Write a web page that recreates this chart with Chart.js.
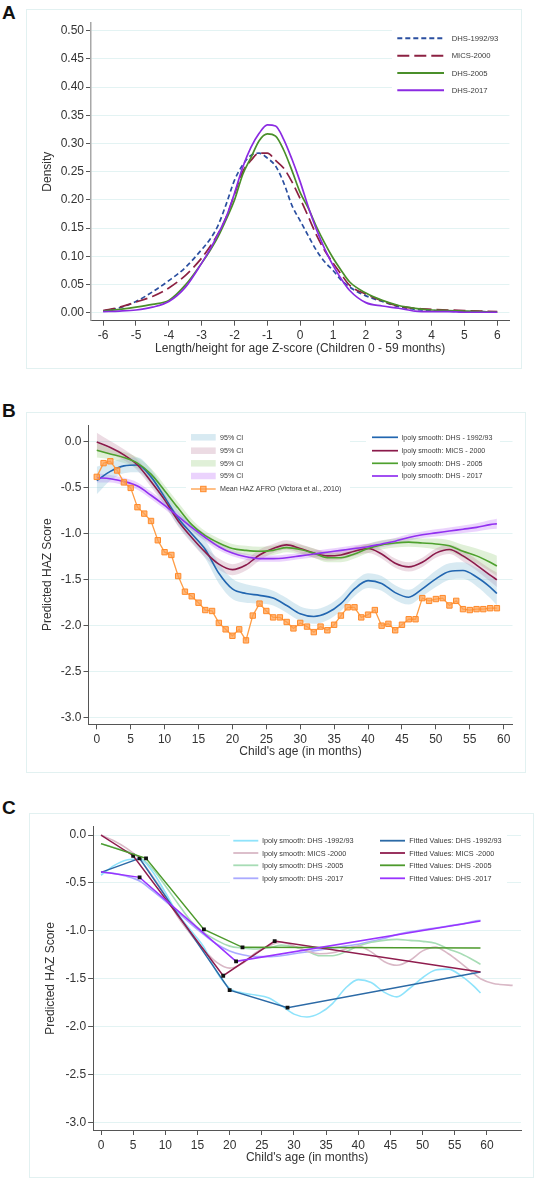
<!DOCTYPE html>
<html><head><meta charset="utf-8">
<script src="https://cdn.jsdelivr.net/npm/chart.js@4.4.1/dist/chart.umd.min.js"></script>
<style>
html,body{margin:0;padding:0;background:#fff;}
body{width:536px;height:1182px;position:relative;overflow:hidden;font-family:"Liberation Sans",Arial,sans-serif;}
.box{position:absolute;border:1px solid #e2f1f1;box-sizing:border-box;}
.cv{position:absolute;}
.lab{position:absolute;font-weight:bold;font-size:19px;line-height:19px;color:#111;font-family:"Liberation Sans",Arial,sans-serif;}
</style></head><body>
<div class="lab" style="left:2px;top:3px">A</div>
<div class="lab" style="left:2px;top:401px">B</div>
<div class="lab" style="left:2px;top:798px">C</div>
<div class="box" style="left:26px;top:9px;width:496px;height:360px"></div>
<div class="box" style="left:26px;top:412px;width:500px;height:361px"></div>
<div class="box" style="left:29px;top:813px;width:505px;height:365px"></div>
<canvas id="cA" class="cv" style="left:26px;top:9px" width="496" height="360"></canvas>
<canvas id="cB" class="cv" style="left:26px;top:412px" width="500" height="361"></canvas>
<canvas id="cC" class="cv" style="left:29px;top:813px" width="505" height="365"></canvas>
<script>
// ---------------- Panel A data (density of HAZ) ----------------
const zA = [-6,-5.5,-5,-4.5,-4,-3.5,-3,-2.75,-2.5,-2.25,-2,-1.75,-1.5,-1.25,-1,-0.75,-0.5,-0.25,0,0.25,0.5,0.75,1,1.25,1.5,2,2.5,3,3.5,4,4.5,5,5.5,6];
const dens1992 = [0.003,0.009,0.02,0.037,0.057,0.08,0.112,0.13,0.155,0.193,0.235,0.262,0.279,0.283,0.274,0.26,0.23,0.19,0.163,0.136,0.11,0.09,0.075,0.058,0.046,0.03,0.02,0.011,0.006,0.004,0.003,0.002,0.002,0.001];
const dens2000 = [0.004,0.01,0.019,0.029,0.044,0.066,0.097,0.117,0.14,0.17,0.21,0.25,0.27,0.283,0.283,0.27,0.256,0.232,0.202,0.17,0.137,0.11,0.088,0.068,0.049,0.033,0.021,0.012,0.008,0.006,0.005,0.004,0.003,0.002];
const dens2005 = [0.003,0.006,0.01,0.015,0.022,0.049,0.088,0.11,0.135,0.166,0.2,0.245,0.275,0.305,0.317,0.313,0.288,0.252,0.213,0.185,0.152,0.123,0.097,0.075,0.055,0.035,0.022,0.013,0.008,0.005,0.004,0.003,0.002,0.001];
const dens2017 = [0.002,0.003,0.005,0.01,0.02,0.045,0.088,0.112,0.14,0.17,0.212,0.258,0.293,0.318,0.333,0.331,0.307,0.272,0.232,0.187,0.147,0.113,0.084,0.06,0.04,0.018,0.012,0.008,0.003,0.002,0.002,0.001,0.001,0.001];
const ticksAX = [-6,-5,-4,-3,-2,-1,0,1,2,3,4,5,6];
const labelsAX = ['-6','-5','-4','-3','-2','-1','0','1','2','3','4','5','6'];
const ticksAY = [0,0.05,0.1,0.15,0.2,0.25,0.3,0.35,0.4,0.45,0.5];
const labelsAY = ['0.00','0.05','0.10','0.15','0.20','0.25','0.30','0.35','0.40','0.45','0.50'];

// ---------------- Panel B data (local polynomial smooth by age) ----------------
const mB = [0,2,4,6,8,10,12,14,16,18,20,22,24,26,28,30,32,34,36,38,40,42,44,46,48,50,52,54,56,58,59];
const smooth1992 = [-0.42,-0.32,-0.26,-0.25,-0.38,-0.6,-0.83,-1.0,-1.17,-1.43,-1.6,-1.65,-1.67,-1.7,-1.78,-1.87,-1.9,-1.86,-1.76,-1.6,-1.51,-1.54,-1.64,-1.69,-1.6,-1.49,-1.41,-1.4,-1.47,-1.58,-1.65];
const smooth2000 = [0.0,-0.06,-0.14,-0.25,-0.43,-0.63,-0.86,-1.04,-1.2,-1.33,-1.39,-1.34,-1.23,-1.16,-1.12,-1.16,-1.21,-1.24,-1.23,-1.19,-1.16,-1.22,-1.32,-1.36,-1.31,-1.21,-1.17,-1.24,-1.34,-1.45,-1.5];
const smooth2005 = [-0.09,-0.13,-0.17,-0.23,-0.35,-0.53,-0.72,-0.9,-1.02,-1.1,-1.16,-1.18,-1.19,-1.18,-1.15,-1.17,-1.21,-1.26,-1.26,-1.22,-1.16,-1.12,-1.1,-1.09,-1.1,-1.11,-1.13,-1.19,-1.24,-1.31,-1.35];
const smooth2017 = [-0.39,-0.4,-0.43,-0.48,-0.58,-0.69,-0.81,-0.93,-1.04,-1.14,-1.21,-1.25,-1.27,-1.27,-1.26,-1.24,-1.22,-1.2,-1.18,-1.16,-1.14,-1.11,-1.08,-1.04,-1.01,-0.99,-0.97,-0.95,-0.93,-0.9,-0.89];
const ci1992 = [0.15,0.1,0.08,0.08,0.08,0.08,0.08,0.09,0.1,0.11,0.11,0.1,0.09,0.08,0.08,0.08,0.08,0.08,0.08,0.08,0.08,0.08,0.08,0.08,0.08,0.09,0.09,0.09,0.1,0.12,0.13];
const ci2000 = [0.1,0.07,0.06,0.06,0.06,0.06,0.06,0.06,0.06,0.06,0.06,0.06,0.06,0.05,0.05,0.05,0.05,0.05,0.05,0.05,0.05,0.05,0.05,0.05,0.05,0.05,0.05,0.06,0.06,0.07,0.08];
const ci2005 = [0.08,0.06,0.06,0.06,0.06,0.06,0.06,0.06,0.05,0.05,0.05,0.05,0.05,0.05,0.05,0.05,0.05,0.05,0.05,0.05,0.05,0.05,0.05,0.05,0.05,0.06,0.06,0.07,0.08,0.1,0.11];
const ci2017 = [0.05,0.04,0.04,0.04,0.04,0.04,0.04,0.04,0.04,0.04,0.035,0.035,0.035,0.035,0.035,0.035,0.035,0.035,0.035,0.035,0.035,0.035,0.035,0.035,0.035,0.04,0.04,0.04,0.045,0.05,0.055];
const monthsAfro = [0,1,2,3,4,5,6,7,8,9,10,11,12,13,14,15,16,17,18,19,20,21,22,23,24,25,26,27,28,29,30,31,32,33,34,35,36,37,38,39,40,41,42,43,44,45,46,47,48,49,50,51,52,53,54,55,56,57,58,59];
const hazAfro = [-0.38,-0.23,-0.21,-0.31,-0.44,-0.5,-0.71,-0.78,-0.86,-1.07,-1.2,-1.23,-1.46,-1.63,-1.68,-1.75,-1.83,-1.84,-1.97,-2.04,-2.11,-2.04,-2.16,-1.89,-1.76,-1.84,-1.91,-1.91,-1.96,-2.03,-1.97,-2.01,-2.07,-2.01,-2.05,-1.99,-1.89,-1.8,-1.8,-1.91,-1.88,-1.83,-2.0,-1.98,-2.05,-1.99,-1.93,-1.93,-1.7,-1.73,-1.71,-1.7,-1.78,-1.73,-1.82,-1.83,-1.82,-1.82,-1.81,-1.81];
const ticksBX = [0,5,10,15,20,25,30,35,40,45,50,55,60];
const labelsBX = ['0','5','10','15','20','25','30','35','40','45','50','55','60'];
const ticksBY = [0,-0.5,-1,-1.5,-2,-2.5,-3];
const labelsBY = ['0.0','-0.5','-1.0','-1.5','-2.0','-2.5','-3.0'];

// ---------------- Panel C data (piecewise fitted values) ----------------
const mExtMICS = [61,62,64];
const smoothExtMICS = [-1.55,-1.56,-1.57];
const fit1992X = [0,6,20,29,59];  const fit1992Y = [-0.39,-0.244,-1.62,-1.803,-1.43];
const fit2000X = [0,5,19,27,59];  const fit2000Y = [0.0,-0.216,-1.469,-1.107,-1.43];
const fit2005X = [0,7,16,22,59];  const fit2005Y = [-0.09,-0.244,-0.985,-1.173,-1.18];
const fit2017X = [0,6,21,59];     const fit2017Y = [-0.383,-0.442,-1.319,-0.898];

// ---------------- helpers ----------------
const FONT = '"Liberation Sans", Arial, Helvetica, sans-serif';
const TXT = '#333333';
Chart.defaults.font.family = FONT;
function pts(xs, ys){ return xs.map((x,i)=>({x:x,y:ys[i]})); }
function band(xs, ys, hw, sign){ return xs.map((x,i)=>({x:x,y:ys[i]+sign*hw[i]})); }

function scaleX(o){
  return {
    type:'linear', min:o.min, max:o.max,
    afterBuildTicks: s => { s.ticks = o.ticks.map(v=>({value:v})); },
    afterFit: s => { s.height = o.h; },
    grid:{drawOnChartArea:false, drawTicks:true, tickLength:5, tickColor:'#555', tickWidth:1},
    border:{display:true, color:o.border||'#555', width:1},
    ticks:{color:TXT, font:{size:12,family:FONT}, padding:3, maxRotation:0, autoSkip:false,
      callback:(v)=>o.labels[o.ticks.indexOf(v)]},
    title:{display:true, text:o.title, color:TXT, font:{size:12,family:FONT}, padding:{top:0,bottom:o.tpad}}
  };
}
function scaleY(o){
  return {
    type:'linear', min:o.min, max:o.max,
    afterBuildTicks: s => { s.ticks = o.ticks.map(v=>({value:v})); },
    afterFit: s => { s.width = o.w; },
    grid:{drawOnChartArea:true, color:'#e3f3f3', lineWidth:1, drawTicks:true, tickLength:5, tickColor:'#555', tickWidth:1},
    border:{display:true, color:o.border||'#555', width:o.bw||1},
    ticks:{color:TXT, font:{size:12,family:FONT}, padding:2, autoSkip:false,
      callback:(v)=>o.labels[o.ticks.indexOf(v)]},
    title:{display:true, text:o.title, color:TXT, font:{size:12,family:FONT}, padding:{top:o.tpad,bottom:0}}
  };
}

const panelLegend = {
  id:'panelLegend',
  beforeDatasetsDraw(chart, args, opts){
    if(!opts || !opts.items) return;
    const ctx = chart.ctx; ctx.save(); ctx.fillStyle = '#ffffff';
    (opts.bg||[]).forEach(r=>ctx.fillRect(r[0],r[1],r[2],r[3]));
    ctx.restore();
  },
  afterDatasetsDraw(chart, args, opts){
    if(!opts || !opts.items) return;
    const ctx = chart.ctx; ctx.save();
    ctx.font = opts.size + 'px ' + FONT;
    ctx.textBaseline = 'middle'; ctx.textAlign = 'left';
    opts.items.forEach(it=>{
      if(it.kind==='box'){
        ctx.fillStyle = it.color; ctx.fillRect(it.x1, it.y-it.h/2, it.x2-it.x1, it.h);
      } else {
        ctx.strokeStyle = it.color; ctx.lineWidth = it.lw||1.6; ctx.setLineDash(it.dash||[]);
        ctx.beginPath(); ctx.moveTo(it.x1,it.y); ctx.lineTo(it.x2,it.y); ctx.stroke(); ctx.setLineDash([]);
        if(it.marker){
          const s = it.marker, cx=(it.x1+it.x2)/2;
          ctx.fillStyle = it.mfill; ctx.fillRect(cx-s/2,it.y-s/2,s,s);
          ctx.strokeStyle = it.mborder; ctx.lineWidth=1; ctx.strokeRect(cx-s/2,it.y-s/2,s,s);
        }
      }
      ctx.fillStyle = opts.color; ctx.fillText(it.text, it.tx, it.y+0.5);
    });
    ctx.restore();
  }
};

function baseOptions(pad, scales, legend){
  return {
    responsive:false, animation:false, devicePixelRatio:1,
    layout:{padding:pad},
    scales:scales,
    plugins:{legend:{display:false}, tooltip:{enabled:false}, filler:{drawTime:'beforeDatasetsDraw'}, panelLegend:legend},
    elements:{point:{radius:0}, line:{tension:0}}
  };
}

// ---------------- Panel A ----------------
const colA = {b:'#2b4fa0', r:'#8c2142', g:'#4a8f2a', p:'#8b2be2'};
new Chart(document.getElementById('cA'), {
  type:'line',
  data:{datasets:[
    {label:'DHS-1992/93', data:pts(zA,dens1992), borderColor:colA.b, borderWidth:1.7, borderDash:[5,3], cubicInterpolationMode:'monotone', pointRadius:0, fill:false, order:4},
    {label:'MICS-2000', data:pts(zA,dens2000), borderColor:colA.r, borderWidth:1.7, borderDash:[12,5], cubicInterpolationMode:'monotone', pointRadius:0, fill:false, order:3},
    {label:'DHS-2005', data:pts(zA,dens2005), borderColor:colA.g, borderWidth:1.7, cubicInterpolationMode:'monotone', pointRadius:0, fill:false, order:2},
    {label:'DHS-2017', data:pts(zA,dens2017), borderColor:colA.p, borderWidth:1.7, cubicInterpolationMode:'monotone', pointRadius:0, fill:false, order:1}
  ]},
  options: baseOptions({left:0,top:13.7,right:12.6,bottom:0}, {
    x: scaleX({min:-6.37,max:6.37,ticks:ticksAX,labels:labelsAX,h:48.3,tpad:13.5,title:'Length/height for age Z-score (Children 0 - 59 months)'}),
    y: scaleY({min:-0.014,max:0.514,ticks:ticksAY,labels:labelsAY,w:65,tpad:14.7,title:'Density',border:'#a8a8a8',bw:1.5})
  }, {
    size:7.7, color:'#3a3a3a', bg:[[366,17,118,80]],
    items:[
      {x1:371.3,x2:418,y:29.3,tx:425.7,text:'DHS-1992/93',color:colA.b,lw:2,dash:[5,3]},
      {x1:371.3,x2:418,y:46.7,tx:425.7,text:'MICS-2000',color:colA.r,lw:2,dash:[12,5]},
      {x1:371.3,x2:418,y:64,tx:425.7,text:'DHS-2005',color:colA.g,lw:2},
      {x1:371.3,x2:418,y:81.3,tx:425.7,text:'DHS-2017',color:colA.p,lw:2}
    ]}),
  plugins:[panelLegend]
});

// ---------------- Panel B ----------------
const colB = {b:'#2266b0', r:'#8b1a4b', g:'#4ea12e', p:'#9130f0', o:'#ff9d45'};
const ciCol = {b:'rgba(137,190,215,0.33)', r:'rgba(180,110,145,0.25)', g:'rgba(140,200,110,0.27)', p:'rgba(190,110,250,0.30)'};
const series = [
  {mid:smooth1992, hw:ci1992, c:colB.b, ci:ciCol.b},
  {mid:smooth2000, hw:ci2000, c:colB.r, ci:ciCol.r},
  {mid:smooth2005, hw:ci2005, c:colB.g, ci:ciCol.g},
  {mid:smooth2017, hw:ci2017, c:colB.p, ci:ciCol.p}
];
const dsB = [];
series.forEach(s=>{
  const lowIdx = dsB.length;
  dsB.push({data:band(mB,s.mid,s.hw,-1), borderWidth:0, pointRadius:0, fill:false, cubicInterpolationMode:'monotone', order:30});
  dsB.push({data:band(mB,s.mid,s.hw,1), borderWidth:0, pointRadius:0, fill:lowIdx, backgroundColor:s.ci, cubicInterpolationMode:'monotone', order:30});
});
series.forEach((s,i)=>{
  dsB.push({data:pts(mB,s.mid), borderColor:s.c, borderWidth:1.6, pointRadius:0, fill:false, cubicInterpolationMode:'monotone', order:10-i});
});
dsB.push({data:pts(monthsAfro,hazAfro), borderColor:colB.o, borderWidth:1.3, fill:false, pointStyle:'rect', pointRadius:3.8,
  pointBackgroundColor:'rgba(255,160,80,0.75)', pointBorderColor:'#ff8a2a', pointBorderWidth:1, order:1});
new Chart(document.getElementById('cB'), {
  type:'line',
  data:{datasets:dsB},
  options: baseOptions({left:0,top:13,right:13.5,bottom:0}, {
    x: scaleX({min:-1.22,max:61.3,ticks:ticksBX,labels:labelsBX,h:48.7,tpad:14.1,title:"Child's age (in months)"}),
    y: scaleY({min:-3.074,max:0.185,ticks:ticksBY,labels:labelsBY,w:62.5,tpad:14.7,title:'Predicted HAZ Score'})
  }, {
    size:7.1, color:'#3a3a3a', bg:[[160,18,164,66],[340,18,134,53]],
    items:[
      {kind:'box',x1:165,x2:189.7,y:25.3,h:6.5,tx:194,text:'95% CI',color:ciCol.b},
      {kind:'box',x1:165,x2:189.7,y:38.7,h:6.5,tx:194,text:'95% CI',color:ciCol.r},
      {kind:'box',x1:165,x2:189.7,y:51.3,h:6.5,tx:194,text:'95% CI',color:ciCol.g},
      {kind:'box',x1:165,x2:189.7,y:64,h:6.5,tx:194,text:'95% CI',color:ciCol.p},
      {x1:165,x2:189.7,y:77,tx:194,text:'Mean HAZ AFRO (Victora et al., 2010)',color:colB.o,lw:1.3,marker:5.4,mfill:'rgba(255,160,80,0.75)',mborder:'#ff8a2a'},
      {x1:346,x2:372,y:25.3,tx:375.7,text:'lpoly smooth: DHS - 1992/93',color:colB.b,lw:1.7},
      {x1:346,x2:372,y:38.7,tx:375.7,text:'lpoly smooth: MICS - 2000',color:colB.r,lw:1.7},
      {x1:346,x2:372,y:51.3,tx:375.7,text:'lpoly smooth: DHS - 2005',color:colB.g,lw:1.7},
      {x1:346,x2:372,y:64,tx:375.7,text:'lpoly smooth: DHS - 2017',color:colB.p,lw:1.7}
    ]}),
  plugins:[panelLegend]
});

// ---------------- Panel C ----------------
const colCl = {b:'#8fe3fb', r:'#d9b8c6', g:'#a7dcb5', p:'#aaaaff'};
const colCf = {b:'#2c6aa6', r:'#8f1d4e', g:'#4d9a2c', p:'#9933ff'};
function knotRadii(n){ return Array.from({length:n},(_,i)=> (i>0 && i<n-1) ? 2.7 : 0); }
const dsC = [
  {data:pts(mB,smooth1992), borderColor:colCl.b, borderWidth:1.6, pointRadius:0, cubicInterpolationMode:'monotone', fill:false, order:20},
  {data:pts(mB.concat(mExtMICS),smooth2000.concat(smoothExtMICS)), borderColor:colCl.r, borderWidth:1.6, pointRadius:0, cubicInterpolationMode:'monotone', fill:false, order:21},
  {data:pts(mB,smooth2005), borderColor:colCl.g, borderWidth:1.6, pointRadius:0, cubicInterpolationMode:'monotone', fill:false, order:22},
  {data:pts(mB,smooth2017), borderColor:colCl.p, borderWidth:1.6, pointRadius:0, cubicInterpolationMode:'monotone', fill:false, order:23},
  {data:pts(fit1992X,fit1992Y), borderColor:colCf.b, borderWidth:1.5, fill:false, pointStyle:'rect', pointRadius:knotRadii(fit1992X.length), pointBackgroundColor:'#111', pointBorderColor:'#111', pointBorderWidth:0, order:4},
  {data:pts(fit2000X,fit2000Y), borderColor:colCf.r, borderWidth:1.5, fill:false, pointStyle:'rect', pointRadius:knotRadii(fit2000X.length), pointBackgroundColor:'#111', pointBorderColor:'#111', pointBorderWidth:0, order:3},
  {data:pts(fit2005X,fit2005Y), borderColor:colCf.g, borderWidth:1.5, fill:false, pointStyle:'rect', pointRadius:knotRadii(fit2005X.length), pointBackgroundColor:'#111', pointBorderColor:'#111', pointBorderWidth:0, order:2},
  {data:pts(fit2017X,fit2017Y), borderColor:colCf.p, borderWidth:1.5, fill:false, pointStyle:'rect', pointRadius:knotRadii(fit2017X.length), pointBackgroundColor:'#111', pointBorderColor:'#111', pointBorderWidth:0, order:1}
];
new Chart(document.getElementById('cC'), {
  type:'line',
  data:{datasets:dsC},
  options: baseOptions({left:0,top:13.7,right:13,bottom:0}, {
    x: scaleX({min:-1.23,max:65.3,ticks:ticksBX,labels:labelsBX,h:48,tpad:13.1,title:"Child's age (in months)"}),
    y: scaleY({min:-3.08,max:0.087,ticks:ticksBY,labels:labelsBY,w:64.1,tpad:14.5,title:'Predicted HAZ Score'})
  }, {
    size:7.3, color:'#3a3a3a', bg:[[201,16,277,58]],
    items:[
      {x1:204.3,x2:229.3,y:27.7,tx:233.3,text:'lpoly smooth: DHS -1992/93',color:colCl.b,lw:1.8},
      {x1:204.3,x2:229.3,y:40,tx:233.3,text:'lpoly smooth: MICS -2000',color:colCl.r,lw:1.8},
      {x1:204.3,x2:229.3,y:52.3,tx:233.3,text:'lpoly smooth: DHS -2005',color:colCl.g,lw:1.8},
      {x1:204.3,x2:229.3,y:65.3,tx:233.3,text:'lpoly smooth: DHS -2017',color:colCl.p,lw:1.8},
      {x1:351,x2:376,y:27.7,tx:380.3,text:'Fitted Values: DHS -1992/93',color:colCf.b,lw:1.8},
      {x1:351,x2:376,y:40,tx:380.3,text:'Fitted Values: MICS -2000',color:colCf.r,lw:1.8},
      {x1:351,x2:376,y:52.3,tx:380.3,text:'Fitted Values: DHS -2005',color:colCf.g,lw:1.8},
      {x1:351,x2:376,y:65.3,tx:380.3,text:'Fitted Values: DHS -2017',color:colCf.p,lw:1.8}
    ]}),
  plugins:[panelLegend]
});
</script>
</body></html>
